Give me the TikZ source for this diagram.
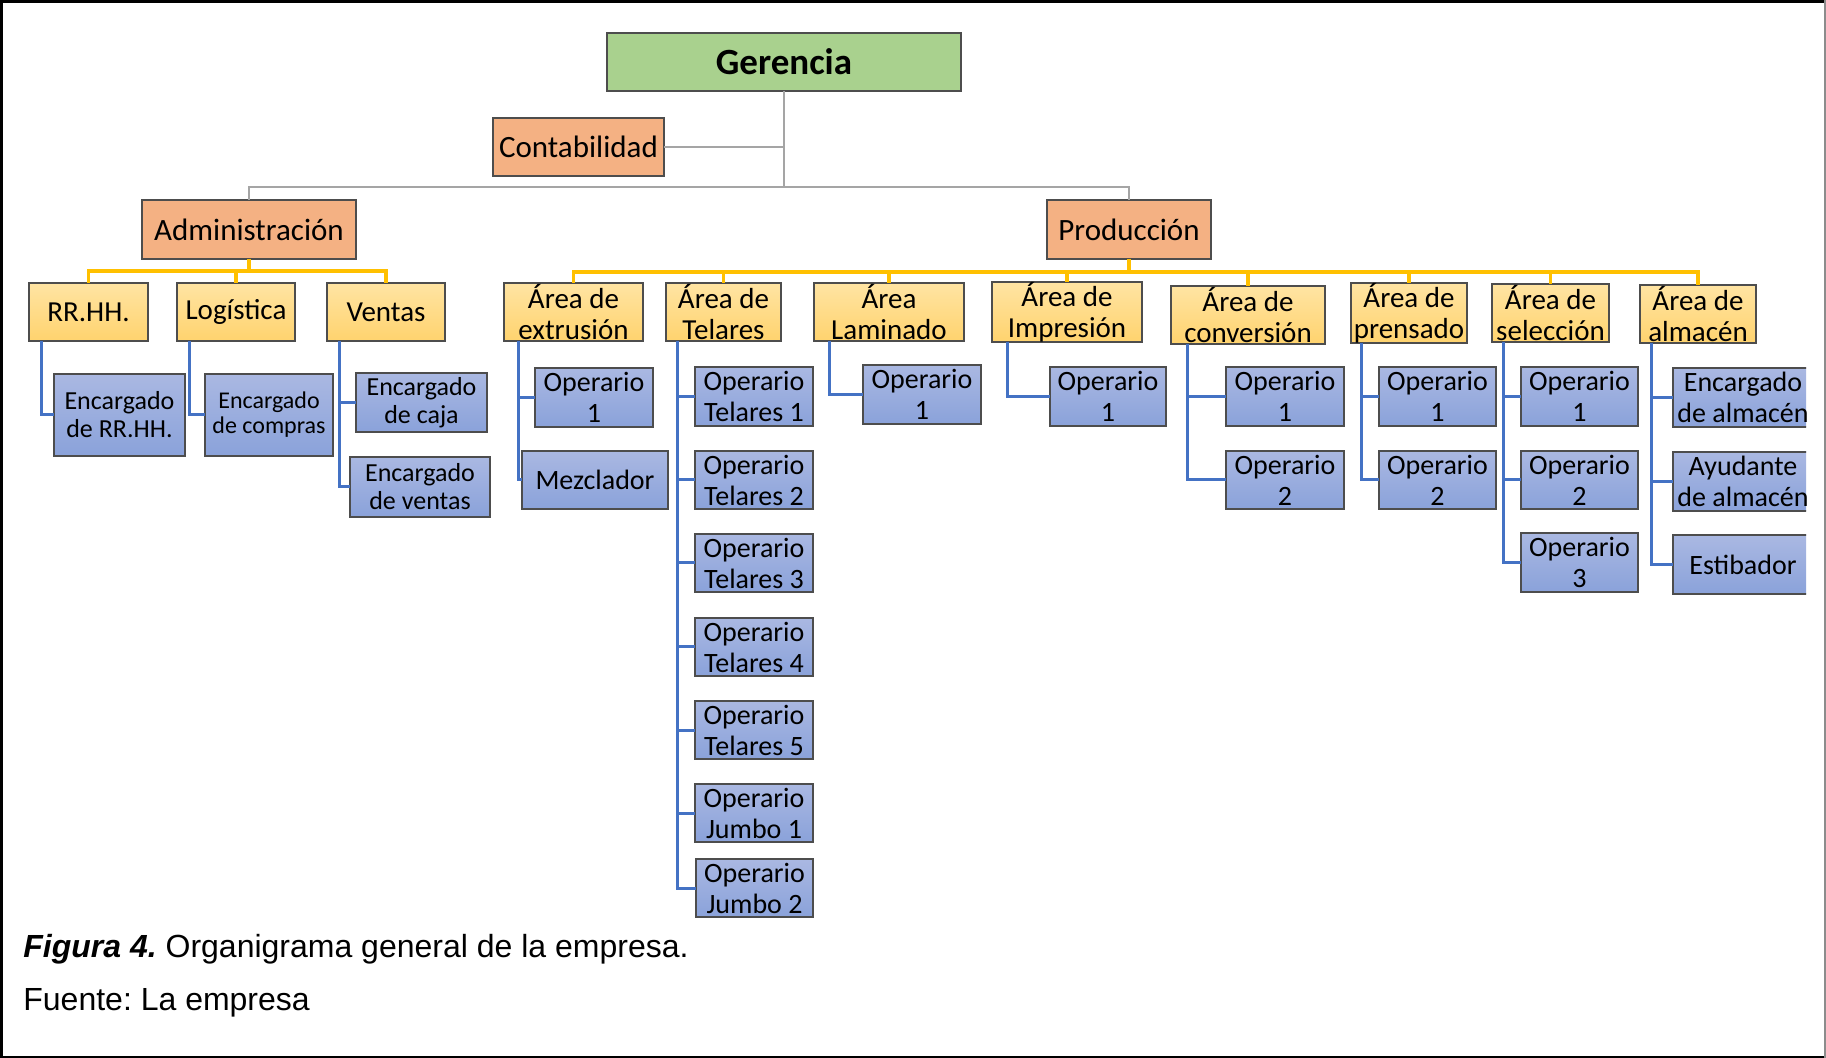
\documentclass[tikz,border=0pt]{standalone}
\usepackage{fontspec}
\setmainfont{Carlito}
\newfontfamily\capfont{Liberation Sans}
\frenchspacing

\definecolor{gerfill}{HTML}{A9D18E}
\definecolor{orgfill}{HTML}{F4B183}
\definecolor{yeltop}{HTML}{FFE4A3}
\definecolor{yelbot}{HTML}{FFD36E}
\definecolor{blutop}{HTML}{AAB8E2}
\definecolor{blubot}{HTML}{8AA2DA}
\definecolor{boxline}{HTML}{4D4D4D}
\definecolor{grayline}{HTML}{A5A5A5}
\definecolor{yelline}{HTML}{FFC000}
\definecolor{bluline}{HTML}{4472C4}

% box from corner (x1,y1) to corner (x2,y2), in pixel units
\newcommand{\orgbox}[7]{%
  \pgfmathsetmacro{\orgW}{(#4-#2)*0.5}%
  \pgfmathsetmacro{\orgH}{(#5-#3)*0.5}%
  \node[#6, minimum width=\orgW pt, minimum height=\orgH pt] (#1) at ({(#2+#4)/2},{(#3+#5)/2}) {#7};}

\begin{document}
\begin{tikzpicture}[x=0.5pt,y=-0.5pt,
  basebox/.style={draw=boxline, line width=0.7pt, inner sep=0pt, outer sep=0pt, align=center, text=black},
  topbox/.style={basebox, fill=gerfill, font={\fontsize{18.5}{20}\selectfont\bfseries}},
  orangebox/.style={basebox, fill=orgfill, font={\fontsize{15.5}{17}\selectfont}},
  yellowbox/.style={basebox, top color=yeltop, bottom color=yelbot, font={\fontsize{14.5}{15.5}\selectfont}},
  bluebox/.style={basebox, top color=blutop, bottom color=blubot, font={\fontsize{14}{15.5}\selectfont}},
  blueboxs/.style={bluebox, font={\fontsize{13}{14}\selectfont}},
  blueboxxs/.style={bluebox, font={\fontsize{12}{12.5}\selectfont}},
  gline/.style={draw=grayline, line width=1.4pt},
  yline/.style={draw=yelline, line width=1.6pt},
  bline/.style={draw=bluline, line width=1.5pt},
  captext/.style={anchor=base west, inner sep=0pt, font={\capfont\fontsize{16}{18}\selectfont}}
]
\useasboundingbox (0,0) rectangle (1826,1058);
\fill[white] (0,0) rectangle (1826,1058);

% ---------- boxes: top levels ----------
\orgbox{ger}{607}{33}{961}{91}{topbox}{Gerencia}
\orgbox{cont}{493}{118}{664}{176}{orangebox}{Contabilidad}
\orgbox{adm}{142}{200}{356}{259}{orangebox}{Administración}
\orgbox{prod}{1047}{200}{1211}{259}{orangebox}{Producción}

% ---------- departments ----------
\orgbox{rrhh}{29}{283}{148}{341}{yellowbox}{RR.HH.}
\orgbox{logi}{177}{283}{295}{341}{yellowbox}{Logística}
\orgbox{vent}{327}{283}{445}{341}{yellowbox}{Ventas}
\orgbox{extr}{504}{283}{643}{341}{yellowbox}{Área de\\extrusión}
\orgbox{tela}{666}{283}{781}{341}{yellowbox}{Área de\\Telares}
\orgbox{lami}{814}{283}{964}{341}{yellowbox}{Área\\Laminado}
\orgbox{impr}{992}{283}{1142}{341}{yellowbox}{Área de\\Impresión}
\orgbox{conv}{1171}{286}{1325}{344}{yellowbox}{Área de\\conversión}
\orgbox{pren}{1351}{284}{1467}{342}{yellowbox}{Área de\\prensado}
\orgbox{sele}{1492}{284}{1609}{342}{yellowbox}{Área de\\selección}
\orgbox{alma}{1640}{285}{1756}{343}{yellowbox}{Área de\\almacén}

% ---------- staff ----------
\orgbox{errhh}{54}{374}{185}{456}{blueboxs}{Encargado\\de RR.HH.}
\orgbox{ecomp}{205}{374}{333}{456}{blueboxxs}{Encargado\\de compras}
\orgbox{ecaja}{356}{373}{487}{432}{blueboxs}{Encargado\\de caja}
\orgbox{event}{350}{457}{490}{517}{blueboxs}{Encargado\\de ventas}

\orgbox{exop}{535}{368}{653}{427}{bluebox}{Operario\\1}
\orgbox{mezc}{522}{451}{668}{509}{bluebox}{Mezclador}

\orgbox{tel1}{695}{367}{813}{426}{bluebox}{Operario\\Telares 1}
\orgbox{tel2}{695}{451}{813}{509}{bluebox}{Operario\\Telares 2}
\orgbox{tel3}{695}{534}{813}{592}{bluebox}{Operario\\Telares 3}
\orgbox{tel4}{695}{618}{813}{676}{bluebox}{Operario\\Telares 4}
\orgbox{tel5}{695}{701}{813}{759}{bluebox}{Operario\\Telares 5}
\orgbox{jum1}{695}{784}{813}{842}{bluebox}{Operario\\Jumbo 1}
\orgbox{jum2}{696}{859}{813}{917}{bluebox}{Operario\\Jumbo 2}

\orgbox{laop}{863}{365}{981}{424}{bluebox}{Operario\\1}
\orgbox{imop}{1050}{367}{1166}{426}{bluebox}{Operario\\1}

\orgbox{cvo1}{1226}{367}{1344}{426}{bluebox}{Operario\\1}
\orgbox{cvo2}{1226}{451}{1344}{509}{bluebox}{Operario\\2}

\orgbox{pro1}{1379}{367}{1496}{426}{bluebox}{Operario\\1}
\orgbox{pro2}{1379}{451}{1496}{509}{bluebox}{Operario\\2}

\orgbox{seo1}{1521}{367}{1638}{426}{bluebox}{Operario\\1}
\orgbox{seo2}{1521}{451}{1638}{509}{bluebox}{Operario\\2}
\orgbox{seo3}{1521}{533}{1638}{592}{bluebox}{Operario\\3}

% warehouse staff run past the right margin and are cut there
\begin{scope}
  \clip (1600,300) rectangle (1806,620);
  \orgbox{ealm}{1673}{368}{1813}{427}{bluebox}{Encargado\\de almacén}
  \orgbox{ayal}{1673}{452}{1813}{511}{bluebox}{Ayudante\\de almacén}
  \orgbox{esti}{1673}{535}{1813}{594}{bluebox}{Estibador}
\end{scope}

% ---------- gray connectors ----------
\coordinate (gbus) at (784,187);
\draw[gline] (ger.south) -- (gbus);
\draw[gline] (cont.east) -- (cont.east -| ger.south);
\draw[gline] (adm.north) |- (gbus) -| (prod.north);

% ---------- yellow connectors ----------
\coordinate (abus) at (249,271);
\draw[yline] (adm.south) -- (abus);
\draw[yline] (rrhh.north) |- (abus) -| (vent.north);
\draw[yline] (logi.north) |- (abus);

\coordinate (pbus) at (1129,272);
\draw[yline] (prod.south) -- (pbus);
\draw[yline] (extr.north) |- (pbus) -| (alma.north);
\foreach \d in {tela,lami,impr,conv,pren,sele}
  \draw[yline] (\d.north) |- (pbus);

% ---------- blue connectors ----------
\draw[bline] ([xshift=6pt]rrhh.south west) |- (errhh.west);
\draw[bline] ([xshift=6pt]logi.south west) |- (ecomp.west);
\foreach \c in {ecaja,event}
  \draw[bline] ([xshift=6pt]vent.south west) |- (\c.west);
\foreach \c in {exop,mezc}
  \draw[bline] ([xshift=7pt]extr.south west) |- (\c.west);
\foreach \c in {tel1,tel2,tel3,tel4,tel5,jum1,jum2}
  \draw[bline] ([xshift=5.5pt]tela.south west) |- (\c.west);
\draw[bline] ([xshift=7.5pt]lami.south west) |- (laop.west);
\draw[bline] ([xshift=7.5pt]impr.south west) |- (imop.west);
\foreach \c in {cvo1,cvo2}
  \draw[bline] ([xshift=8pt]conv.south west) |- (\c.west);
\foreach \c in {pro1,pro2}
  \draw[bline] ([xshift=5pt]pren.south west) |- (\c.west);
\foreach \c in {seo1,seo2,seo3}
  \draw[bline] ([xshift=5.5pt]sele.south west) |- (\c.west);
\foreach \c in {ealm,ayal,esti}
  \draw[bline] ([xshift=5.5pt]alma.south west) |- (\c.west);

% ---------- caption ----------
\node[captext] (fig) at (23,957) {\textbf{\textit{Figura 4.}} Organigrama general de la empresa.};
\node[captext] (src) at (23,1010) {Fuente: La empresa};

% ---------- frame ----------
\draw[black, line width=1.4pt] (0,1.4) -- (1826,1.4);
\draw[black, line width=1.4pt] (1.4,0) -- (1.4,1058);
\draw[black, line width=1.2pt] (0,1056.8) -- (1826,1056.8);
\draw[black!45, line width=0.8pt] (1825.2,0) -- (1825.2,1058);
\end{tikzpicture}
\end{document}
